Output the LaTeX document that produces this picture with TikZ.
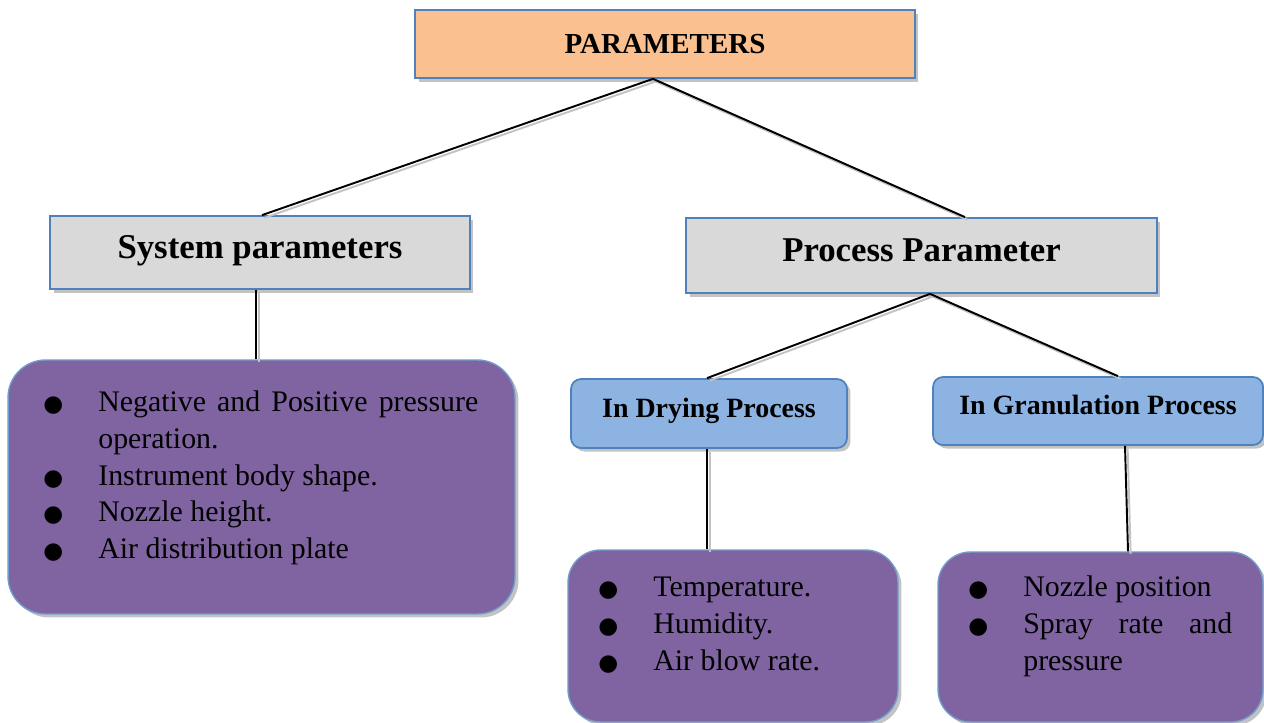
\documentclass[tikz,border=0pt]{standalone}
\usepackage{fontspec}
\setmainfont{Liberation Serif}
\newfontfamily\symfont{DejaVu Sans}
\usetikzlibrary{positioning,calc,shadows}
\definecolor{edge}{RGB}{79,129,189}
\definecolor{peach}{RGB}{250,192,144}
\definecolor{panel}{RGB}{217,217,217}
\definecolor{sky}{RGB}{141,179,226}
\definecolor{plum}{RGB}{128,100,162}
\definecolor{shade}{RGB}{195,195,195}
\hyphenpenalty=10000
\newcommand{\bulletmark}{{\symfont\fontsize{13pt}{13pt}\selectfont ●}}
\newlength{\bulletgap}
\setlength{\bulletgap}{1.1cm}
\newcommand{\bitem}[1]{\par\noindent\hangindent=\bulletgap\hangafter=1\makebox[\bulletgap][l]{\bulletmark}#1\par}
\tikzset{
  every picture/.style={x=0.02cm, y=-0.02cm},
  box/.style={draw=edge, line width=1pt, inner sep=0pt, align=center,
    drop shadow={shadow xshift=2pt, shadow yshift=-2pt, fill=shade, opacity=1}},
  root/.style={box, fill=peach, font=\bfseries\fontsize{16.5pt}{20pt}\selectfont},
  group/.style={box, fill=panel, text height=0.7em, text depth=0pt, font=\bfseries\fontsize{19.8pt}{23pt}\selectfont},
  stage/.style={box, fill=sky, rounded corners=0.2cm, text height=0.7em, text depth=0.3em, font=\bfseries\fontsize{15.9pt}{18pt}\selectfont},
  card/.style={box, fill=plum, draw=edge!80, line width=0.8pt},
  items/.style={inner sep=0pt, anchor=north west, align=justify, font=\fontsize{17pt}{21pt}\selectfont},
  link/.style={line width=1.1pt, black,
    preaction={draw=shade, line width=1.1pt, transform canvas={xshift=1.5pt, yshift=-1.5pt}}},
}
\begin{document}
\begin{tikzpicture}
  \useasboundingbox (0,0) rectangle (1264,723);
  % upper levels
  \node[root, minimum width=10cm, minimum height=1.36cm] (top) at (665,44) {PARAMETERS};
  \node[group, minimum width=8.4cm, minimum height=1.46cm] (sys) at (260,252.5) {System parameters};
  \node[group, minimum width=9.42cm, minimum height=1.5cm] (proc) at (921.5,255.5) {Process Parameter};
  \node[stage, minimum width=5.52cm, minimum height=1.38cm] (dry) at (709,413.5) {In Drying Process};
  \node[stage, minimum width=6.6cm, minimum height=1.36cm] (gran) at (1098,411) {In Granulation Process};
  % purple cards
  \node[card, rounded corners=0.75cm, minimum width=10.14cm, minimum height=5.08cm] (sysCard) at (261.5,487) {};
  \node[card, rounded corners=0.65cm, minimum width=6.6cm, minimum height=3.44cm] (dryCard) at (733,636) {};
  \node[card, rounded corners=0.65cm, minimum width=6.5cm, minimum height=3.4cm] (granCard) at (1100.5,637) {};
  \node[items, text width=8.7cm] (sysList) at (43,374) {\bitem{Negative and Positive pressure operation.}\bitem{Instrument body shape.}\bitem{Nozzle height.}\bitem{Air distribution plate}};
  \node[items, text width=5.6cm] (dryList) at (598,559) {\bitem{Temperature.}\bitem{Humidity.}\bitem{Air blow rate.}};
  \node[items, text width=5.28cm] (granList) at (968,559) {\bitem{Nozzle position}\bitem{Spray rate and pressure}};
  % connectors
  \coordinate (topFork) at ($(top.south)+(-12,0)$);
  \coordinate (procFork) at ($(proc.south)+(8.5,0)$);
  \draw[link] (topFork) -- ($(sys.north)+(2,0)$);
  \draw[link] (topFork) -- ($(proc.north)+(43.5,0)$);
  \draw[link] ($(sys.south)+(-4,0)$) -- ($(sysCard.north)+(-5.5,0)$);
  \draw[link] (procFork) -- ($(dry.north)+(-2,0)$);
  \draw[link] (procFork) -- ($(gran.north)+(20,0)$);
  \draw[link] ($(dry.south)+(-2,0)$) -- ($(dryCard.north)+(-26,0)$);
  \draw[link] ($(gran.south)+(27,0)$) -- ($(granCard.north)+(27.5,0)$);
\end{tikzpicture}
\end{document}
